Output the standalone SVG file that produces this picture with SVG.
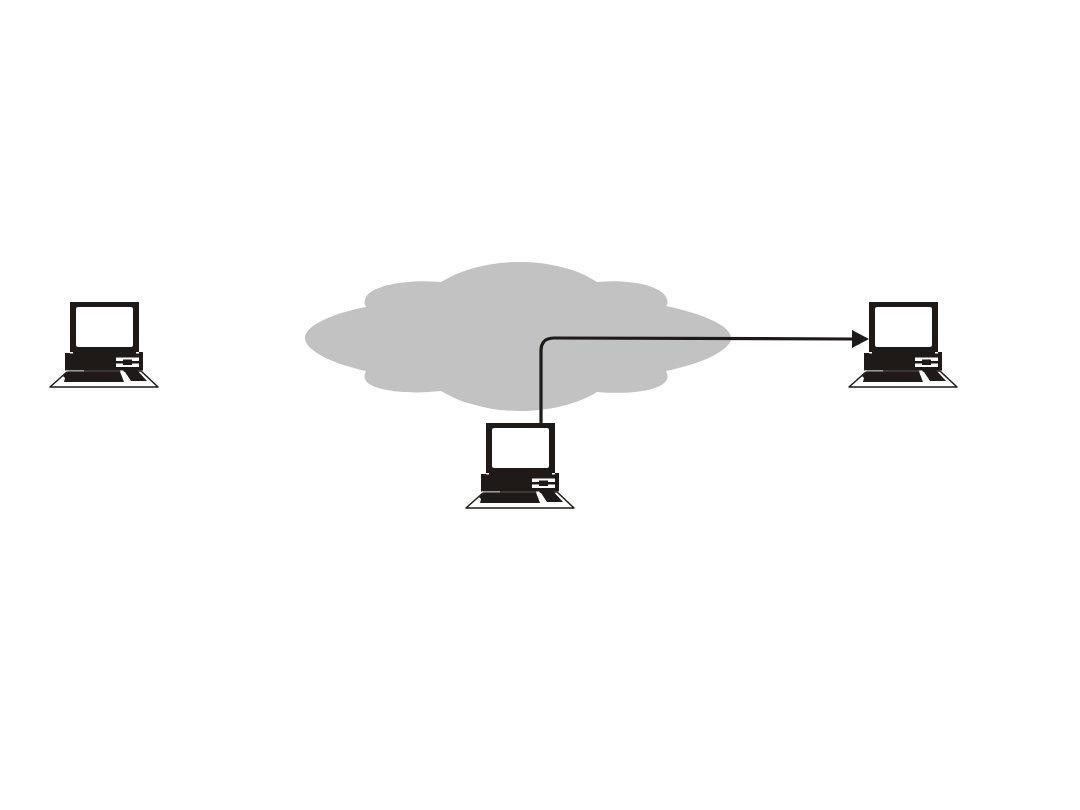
<svg xmlns="http://www.w3.org/2000/svg" width="1080" height="810" viewBox="0 0 1080 810">
<style>
.k{fill:#1f1a17}
.s{fill:#fff}
.o{fill:#fff;stroke:#1f1a17;stroke-width:1.5;stroke-linejoin:round}
.c{fill:none;stroke:#1f1a17;stroke-width:3.200}
</style>
<defs>
<g id="pc">
<path class="o" d="M68 371H141L158 387H50Z"/>
<path class="k" d="M70 302H139V352H143V370.500H126L122 370.500H65V353H70Z"/>
<path class="s" d="M78 307H131Q133 307 133 309V345Q133 347 131 347H78Q76 347 76 345V309Q76 307 78 307Z"/>
<path class="s" d="M70 352H73V353.500H70ZM136 352H139V353.500H136Z"/>
<path class="s" d="M116 357.500H139V361H132V359.500H123V361H116ZM116 363.500H123V365H132V363.500H139V367H116Z"/>
<path class="s" d="M66 370.500H84V371.500H66Z"/>
<path class="k" d="M68 371.500H120L124 382H64L65 378L63 376Z"/>
<path class="k" d="M123 369H136L147 381H131Z"/>
<path class="s" d="M120 370.500L123 370.500L130 381.500H125Z"/>
</g>
</defs>
<rect width="1080" height="810" fill="#fff"/>
<path id="cloud" fill="#c2c2c2" d="M305 338C305 326 330 314 366 307C364 303 364 301 366 297C372 286 405 279 441 282C462 269 492 262 520 262C549 262 578 269 597 282C632 279 660 286 666 297C668 301 668 303 666 306C704 314 731 326 731 338C731 350 704 363 666 371C668 375 668 378 666 381C660 390 632 395 597 392C578 404 549 411 520 411C492 411 462 404 441 391C405 395 372 390 366 381C364 378 364 375 366 371C330 363 305 350 305 338Z"/>
<g id="connectors">
<path class="c" d="M541 424V351Q541 338 554 338L852 339"/>
<polygon class="k" points="852,330 869,339 852,348"/>
</g>
<g id="computer-left"><use href="#pc"/></g>
<g id="computer-centre"><use href="#pc" x="416" y="121"/></g>
<g id="computer-right"><use href="#pc" x="799"/></g>
</svg>
